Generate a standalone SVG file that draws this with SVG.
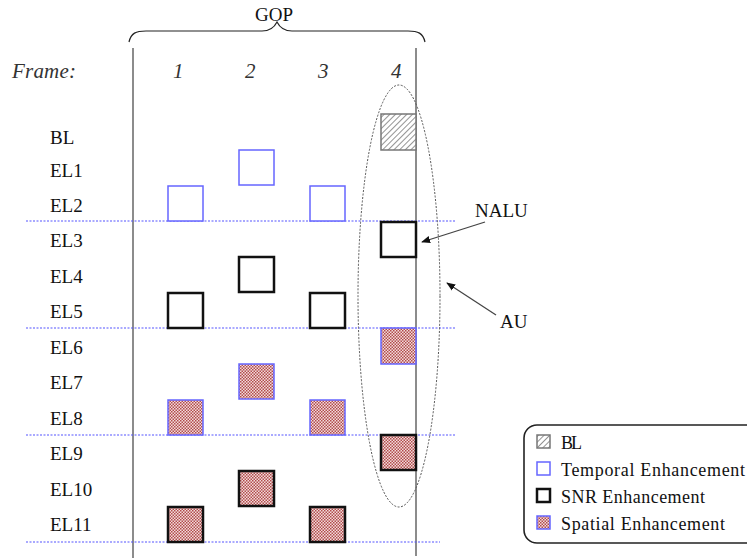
<svg xmlns="http://www.w3.org/2000/svg" width="747" height="558" viewBox="0 0 747 558">
<style>
text{font-family:"Liberation Serif","Times New Roman",serif;fill:#111;}
.lbl{font-size:19px;}
.ann{font-size:19px;}
.frm{font-size:21px;font-style:italic;fill:#333;}
.leg{font-size:18px;}
.sep{stroke:#5555ff;stroke-width:1.2;stroke-dasharray:2,1.5;fill:none;}
.vl{stroke:#666;stroke-width:1.5;fill:none;}
.bl{fill:url(#hatch);stroke:#777;stroke-width:1.5;}
.tmp{fill:#fff;stroke:#6666ff;stroke-width:1.5;}
.snr{fill:#fff;stroke:#111;stroke-width:2.5;}
.sp{fill:url(#check);stroke:#6666ff;stroke-width:1.5;}
.spsnr{fill:url(#check);stroke:#111;stroke-width:2.5;}
.arr{stroke:#444;stroke-width:1.3;fill:none;marker-end:url(#ah);}
</style>
<defs>
<pattern id="hatch" patternUnits="userSpaceOnUse" width="4" height="4" patternTransform="rotate(45)">
<rect width="4" height="4" fill="#fff"/>
<line x1="0" y1="0" x2="0" y2="4" stroke="#666" stroke-width="1.4"/>
</pattern>
<pattern id="check" patternUnits="userSpaceOnUse" width="3" height="3">
<rect width="3" height="3" fill="#f2dcdc"/>
<rect width="1.5" height="1.5" fill="#b24c4c"/>
<rect x="1.5" y="1.5" width="1.5" height="1.5" fill="#b24c4c"/>
</pattern>
<marker id="ah" viewBox="0 0 10 10" refX="9" refY="5" markerWidth="9" markerHeight="9" orient="auto" markerUnits="userSpaceOnUse">
<path d="M0,1 L10,5 L0,9 Z" fill="#111"/>
</marker>
</defs>
<rect width="747" height="558" fill="#fff"/>

<g id="header">
<text x="255" y="21" class="ann">GOP</text>
<path d="M129,42 C131,33 136,31 146,31 L262,31 C270,31 274,28 277,22 C280,28 284,31 292,31 L408,31 C418,31 423,33 425,42" fill="none" stroke="#222" stroke-width="1.2"/>
<text x="12" y="78" class="frm" textLength="64">Frame:</text>
<text x="173" y="78" class="frm">1</text>
<text x="245" y="78" class="frm">2</text>
<text x="318" y="78" class="frm">3</text>
<text x="391" y="78" class="frm">4</text>
</g>

<g id="grid">
<line x1="133" y1="48" x2="133" y2="558" class="vl"/>
<line x1="416" y1="48" x2="416" y2="556" class="vl"/>
<line x1="26" y1="221" x2="456" y2="221" class="sep"/>
<line x1="26" y1="328" x2="456" y2="328" class="sep"/>
<line x1="26" y1="435" x2="456" y2="435" class="sep"/>
<line x1="26" y1="542" x2="440" y2="542" class="sep"/>
</g>

<g id="rowlabels">
<text x="50" y="144" class="lbl">BL</text>
<text x="50" y="177" class="lbl">EL1</text>
<text x="50" y="212" class="lbl">EL2</text>
<text x="50" y="247" class="lbl">EL3</text>
<text x="50" y="283" class="lbl">EL4</text>
<text x="50" y="318" class="lbl">EL5</text>
<text x="50" y="354" class="lbl">EL6</text>
<text x="50" y="389" class="lbl">EL7</text>
<text x="50" y="425" class="lbl">EL8</text>
<text x="50" y="460" class="lbl">EL9</text>
<text x="50" y="496" class="lbl">EL10</text>
<text x="50" y="531" class="lbl">EL11</text>
</g>

<g id="n-bl-4"><rect x="381" y="114" width="35" height="36" class="bl"/></g>
<g id="n-el1-2"><rect x="239" y="150" width="35" height="35" class="tmp"/></g>
<g id="n-el2-1"><rect x="168" y="186" width="35" height="35" class="tmp"/></g>
<g id="n-el2-3"><rect x="310" y="186" width="35" height="35" class="tmp"/></g>
<g id="n-el3-4"><rect x="381" y="222" width="35" height="35" class="snr"/></g>
<g id="n-el4-2"><rect x="239" y="257" width="35" height="35" class="snr"/></g>
<g id="n-el5-1"><rect x="168" y="293" width="35" height="35" class="snr"/></g>
<g id="n-el5-3"><rect x="310" y="293" width="35" height="35" class="snr"/></g>
<g id="n-el6-4"><rect x="381" y="328" width="35" height="36" class="sp"/></g>
<g id="n-el7-2"><rect x="239" y="364" width="35" height="35" class="sp"/></g>
<g id="n-el8-1"><rect x="168" y="400" width="35" height="35" class="sp"/></g>
<g id="n-el8-3"><rect x="310" y="400" width="35" height="35" class="sp"/></g>
<g id="n-el9-4"><rect x="381" y="435" width="35" height="35" class="spsnr"/></g>
<g id="n-el10-2"><rect x="239" y="471" width="35" height="35" class="spsnr"/></g>
<g id="n-el11-1"><rect x="168" y="507" width="35" height="35" class="spsnr"/></g>
<g id="n-el11-3"><rect x="310" y="507" width="35" height="35" class="spsnr"/></g>

<g id="au-ellipse"><ellipse cx="399" cy="296" rx="41" ry="211" fill="none" stroke="#555" stroke-width="1" stroke-dasharray="2,1.5"/></g>

<g id="connectors">
<line x1="485" y1="222" x2="422" y2="242" class="arr"/>
<line x1="496" y1="315" x2="447" y2="283" class="arr"/>
</g>

<g id="annotations">
<text x="475" y="217" class="ann">NALU</text>
<text x="500" y="328" class="ann">AU</text>
</g>

<g id="legend">
<rect x="524" y="425" width="240" height="118" rx="13" ry="13" fill="#fff" stroke="#222" stroke-width="1.6"/>
<rect x="537" y="435" width="13" height="13" class="bl"/>
<text x="561" y="449" class="leg" textLength="21">BL</text>
<rect x="537" y="462" width="13" height="13" class="tmp"/>
<text x="561" y="476" class="leg" textLength="184">Temporal Enhancement</text>
<rect x="537" y="489" width="13" height="13" class="snr"/>
<text x="561" y="503" class="leg" textLength="144">SNR Enhancement</text>
<rect x="537" y="516" width="13" height="13" class="sp"/>
<text x="561" y="530" class="leg" textLength="164">Spatial Enhancement</text>
</g>
</svg>
